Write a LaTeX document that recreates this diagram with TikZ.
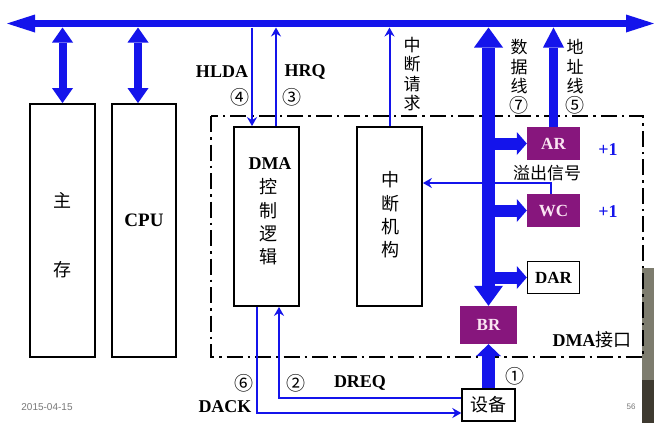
\documentclass[tikz,border=0pt]{standalone}
\usepackage{fontspec}
\setmainfont{Liberation Serif}
\newfontfamily\cjk{Noto Sans CJK SC}
\newfontfamily\lsans{Liberation Sans}
\usetikzlibrary{arrows.meta}
\definecolor{busblue}{RGB}{20,20,235}
\definecolor{regpurple}{RGB}{135,22,125}
\definecolor{regtext}{RGB}{250,228,242}
\definecolor{slidegray}{RGB}{120,120,120}
\definecolor{ovtop}{RGB}{125,124,110}
\definecolor{ovbot}{RGB}{62,58,48}
\begin{document}
\begin{tikzpicture}[x=1pt,y=-1pt,
  box/.style={draw=black,line width=1.8pt,inner sep=0pt},
  reg/.style={fill=regpurple,inner sep=0pt,minimum width=53pt,minimum height=33pt,text=regtext,font=\bfseries\fontsize{17}{17}\selectfont},
  fat/.style={draw=busblue,line width=#1},
  sig/.style={draw=busblue,line width=2pt,-{Stealth[length=9pt,width=10pt,inset=3pt]}},
  lbl/.style={font=\bfseries\fontsize{18}{18}\selectfont,inner sep=0pt},
  cn/.style={font=\cjk\fontsize{17}{19.5}\selectfont,inner sep=0pt,align=center},
  cnbig/.style={font=\cjk\fontsize{18}{23.3}\selectfont,inner sep=0pt,align=center},
  num/.style={font=\cjk\fontsize{19}{19}\selectfont,inner sep=0pt},
  plus/.style={font=\bfseries\fontsize{18}{18}\selectfont,text=busblue,inner sep=0pt},
  tiny/.style={font=\lsans\fontsize{10}{10}\selectfont,text=slidegray,inner sep=0pt}
]
\useasboundingbox (0,0) rectangle (654,423);
\fill[white] (0,0) rectangle (654,423);
% video overlay at the right edge
\fill[ovtop] (642,268) rectangle (654,380);
\fill[ovbot] (642,380) rectangle (654,423);

% DMA interface frame
\draw[line width=2.2pt,dash pattern=on 16pt off 5pt on 2.5pt off 5pt] (211,116) rectangle (643,357);

% boxes
\node[box,minimum width=65pt,minimum height=253pt] (mem) at (62.5,230.5) {};
\node[box,minimum width=64pt,minimum height=253pt] (cpu) at (144,230.5) {};
\node[box,minimum width=65pt,minimum height=179pt] (dma) at (266.5,216.5) {};
\node[box,minimum width=65pt,minimum height=179pt] (intr) at (389.5,216.5) {};
\node[reg] (ar) at (553.5,143.5) {AR};
\node[reg] (wc) at (553.5,210.5) {WC};
\node[box,line width=1.4pt,minimum width=52pt,minimum height=32pt,font=\bfseries\fontsize{17}{17}\selectfont] (dar) at (553.5,277.5) {DAR};
\node[reg,minimum width=57pt,minimum height=38pt] (br) at (488.5,325) {BR};
\node[box,line width=1.4pt,minimum width=53pt,minimum height=32pt,font=\cjk\fontsize{18}{18}\selectfont] (dev) at (488.5,405) {设备};

% box texts
\node[cnbig] at (62.5,200) {主};
\node[cnbig] at (62.5,270) {存};
\node[lbl,font=\bfseries\fontsize{19}{19}\selectfont] at (144,220) {CPU};
\node[lbl] at (270,164) {DMA};
\node[cnbig] at (268,222) {控\\制\\逻\\辑};
\node[cnbig] at (390,215) {中\\断\\机\\构};

% system bus
\coordinate (busL) at (7,23.5);
\coordinate (busR) at (654,23.5);
\coordinate (busB) at (0,27.5);
\draw[fat=7pt,{Triangle[length=28pt,width=18pt,line width=0pt]}-{Triangle[length=28pt,width=18pt,line width=0pt]}] (busL) -- (busR);

% memory / cpu bus arrows
\coordinate (cpuN) at ([xshift=-6pt]cpu.north);
\draw[fat=8pt,{Triangle[length=15pt,width=21pt,line width=0pt]}-{Triangle[length=15pt,width=21pt,line width=0pt]}] (mem.north |- busB) -- (mem.north);
\draw[fat=8pt,{Triangle[length=15pt,width=21pt,line width=0pt]}-{Triangle[length=15pt,width=21pt,line width=0pt]}] (cpuN |- busB) -- (cpuN);

% data line and address line
\draw[fat=13pt,{Triangle[length=20pt,width=29pt,line width=0pt]}-{Triangle[length=20pt,width=29pt,line width=0pt]}] (br.north |- busB) -- (br.north);
\draw[fat=9pt,-{Triangle[length=20pt,width=21pt,line width=0pt]}] (ar.north) -- (ar.north |- busB);
\draw[fat=13pt,-{Triangle[length=12pt,width=25pt,line width=0pt]}] (dev.north) -- (br.south);

% branches to registers
\coordinate (dx) at (489,0);
\draw[fat=12pt,-{Triangle[length=10pt,width=23pt,line width=0pt]}] (ar.west -| dx) -- (ar.west);
\draw[fat=12pt,-{Triangle[length=10pt,width=23pt,line width=0pt]}] (wc.west -| dx) -- (wc.west);
\draw[fat=12pt,-{Triangle[length=10pt,width=23pt,line width=0pt]}] (dar.west -| dx) -- (dar.west);

% control signals
\coordinate (hlda) at (252,27.5);
\coordinate (hrq) at (276,27.5);
\draw[sig] (hlda) -- (hlda |- dma.north);
\draw[sig] (hrq |- dma.north) -- (hrq);
\draw[sig] (intr.north) -- (intr.north |- busB);
\coordinate (ovf) at (551,183);
\draw[sig] (ovf |- wc.north) -- (ovf) -- (ovf -| intr.east);
\coordinate (dk) at (257,413);
\draw[sig] (dk |- dma.south) -- (dk) -- (dk -| dev.west);
\coordinate (dq) at (279,398);
\draw[sig] (dq -| dev.west) -- (dq) -- (dq |- dma.south);

% labels
\node[lbl] at (222,72) {HLDA};
\node[lbl] at (305,72) {HRQ};
\node[num] at (240,97) {④};
\node[num] at (292,97) {③};
\node[cn] at (412,74) {中\\断\\请\\求};
\node[cn] at (519,76.5) {数\\据\\线\\{\fontsize{19}{19}\selectfont ⑦}};
\node[cn] at (575,76.5) {地\\址\\线\\{\fontsize{19}{19}\selectfont ⑤}};
\node[plus] at (608,150) {+1};
\node[plus] at (608,212) {+1};
\node[cn] at (547,173) {溢出信号};
\node[lbl] at (592,340) {DMA{\cjk\mdseries 接口}};
\node[num] at (515,376) {①};
\node[num] at (244,383) {⑥};
\node[num] at (296,383) {②};
\node[lbl] at (360,383) {DREQ};
\node[lbl] at (225,407) {DACK};
\node[tiny] at (47,407) {2015-04-15};
\node[tiny,font=\lsans\fontsize{8}{8}\selectfont] at (631,407) {56};
\end{tikzpicture}
\end{document}
